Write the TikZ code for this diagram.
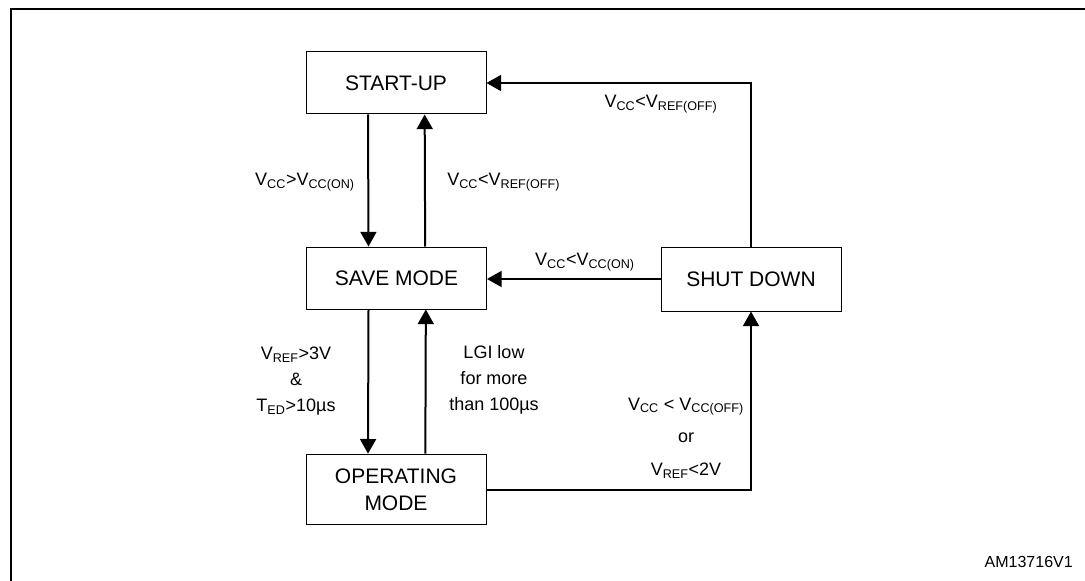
\documentclass[tikz,border=0pt]{standalone}
\usepackage{fontspec}
\setmainfont{Liberation Sans}
\usetikzlibrary{arrows.meta,positioning}
\newcommand{\sbs}[1]{\textsubscript{#1}}

\begin{document}
\begin{tikzpicture}[x=0.75pt,y=-0.75pt,
  state/.style={draw,line width=0.75pt,inner sep=0pt,minimum width=135pt,minimum height=46.5pt,align=center,font=\fontsize{15.75}{20}\selectfont},
  arr/.style={line width=1.5pt,-{Triangle[length=11pt,width=12pt]}},
  cond/.style={align=center,inner sep=0pt,font=\fontsize{13.5}{19.5}\selectfont}]
\useasboundingbox (0,0) rectangle (1085,581);
% frame
\draw[line width=1.5pt] (11,620) -- (11,9) -- (1100,9);
% states
\node[state] (startup) at (396,83) {START-UP};
\node[state] (save) at (396.5,278) {SAVE MODE};
\node[state,minimum height=48pt] (shut) at (751,279) {SHUT DOWN};
\node[state,minimum height=53pt] (oper) at (396,489.5) {OPERATING\\MODE};
% transitions
\draw[arr] ([xshift=-21pt]startup.south) -- ([xshift=-21pt]save.north);
\draw[arr] ([xshift=21.5pt]save.north) -- ([xshift=21.5pt]startup.south);
\draw[arr] ([xshift=-21pt]save.south) -- ([xshift=-21pt]oper.north);
\draw[arr] ([xshift=22pt]oper.north) -- ([xshift=22pt]save.south);
\draw[arr] (shut.west) -- (shut.west -| save.east);
\draw[arr] (oper.east) -| (shut.south);
\draw[arr] (shut.north) |- (startup.east);
% conditions
\node[cond] (c1) at (305,182) {V\sbs{CC}>V\sbs{CC(ON)}};
\node[cond,anchor=west] (c2) at (447,182) {V\sbs{CC}<V\sbs{REF(OFF)}};
\node[cond] (c3) at (585,262) {V\sbs{CC}<V\sbs{CC(ON)}};
\node[cond] (c4) at (661,104) {V\sbs{CC}<V\sbs{REF(OFF)}};
\node[cond] (c5) at (296,381) {V\sbs{REF}>3V\\\&\\T\sbs{ED}>10µs};
\node[cond] (c6) at (494,380) {LGI low\\for more\\than 100µs};
\node[cond] (c7) at (686,438) {V\sbs{CC} < V\sbs{CC(OFF)}\\[5pt]or\\[5pt]V\sbs{REF}<2V};
\node[anchor=east,inner sep=0pt,font=\fontsize{12}{14}\selectfont] (id) at (1073,562) {AM13716V1};
\end{tikzpicture}
\end{document}
